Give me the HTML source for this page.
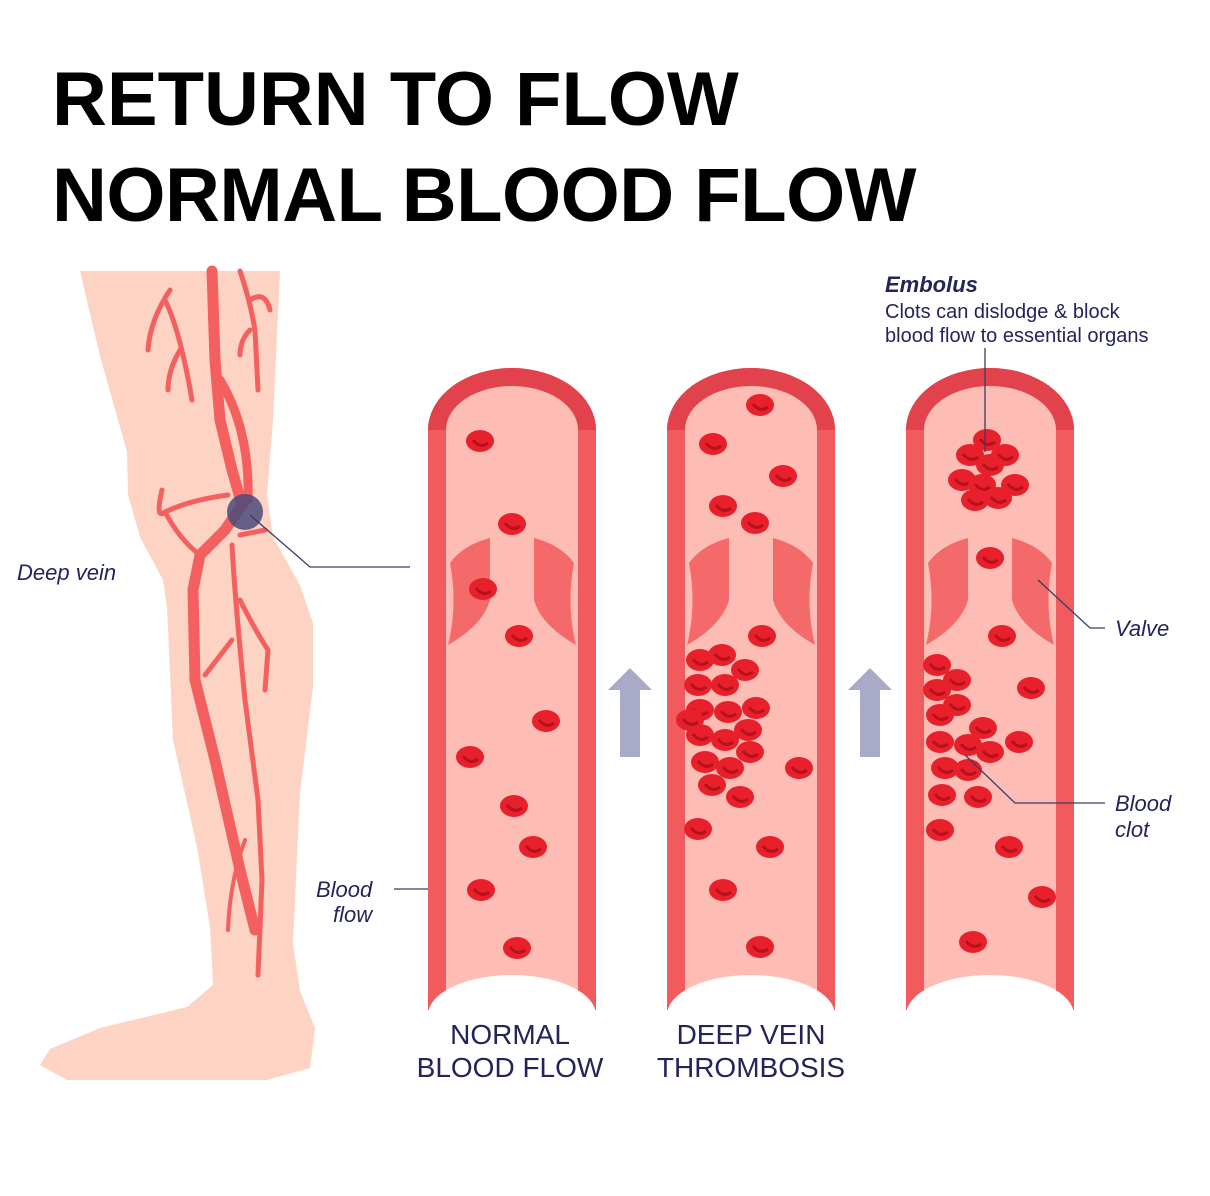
<!DOCTYPE html>
<html><head><meta charset="utf-8"><style>
body{margin:0;background:#fff;}
svg{display:block}
</style></head><body>
<svg width="1210" height="1196" viewBox="0 0 1210 1196" xmlns="http://www.w3.org/2000/svg">
<defs>
<g id="c"><ellipse cx="0" cy="0" rx="14" ry="11" fill="#e8202c"/><path d="M-7,-1 Q0,8 8,2" stroke="#b5121c" stroke-width="3" fill="none"/></g>
<g id="tube">
<path d="M0,1010 L0,430 A84,62 0 0 1 168,430 L168,1010 Z" fill="#f15b5e"/>
<path d="M0,430 A84,62 0 0 1 168,430 L150,430 A66,44 0 0 0 18,430 Z" fill="#e2424b"/>
<path d="M18,1010 L18,430 A66,44 0 0 1 150,430 L150,1010 Z" fill="#fdbdb5"/>
<ellipse cx="84" cy="1015" rx="84" ry="40" fill="#fff"/>
<rect x="-5" y="1010" width="180" height="60" fill="#fff"/>
</g>
<g id="valve">
<path d="M22,193 Q35,175 62,168 L62,230 Q55,255 20,275 Q30,235 22,193 Z" fill="#f4696a"/>
<path d="M146,193 Q133,175 106,168 L106,230 Q113,255 148,275 Q138,235 146,193 Z" fill="#f4696a"/>
</g>
</defs>
<text x="52" y="125" font-family="Liberation Sans, sans-serif" font-weight="bold" font-size="76" fill="#000">RETURN TO FLOW</text>
<text x="52" y="221" font-family="Liberation Sans, sans-serif" font-weight="bold" font-size="76" letter-spacing="-0.5" fill="#000">NORMAL BLOOD FLOW</text>

<!-- leg -->
<path d="M80,271 L100,356 L127,452 L128,495 L140,537 L163,580 L167,607 L173,740 L197,847 L210,927 L213,985 L187,1007 L100,1028 L50,1049 L40,1065 L67,1080 L267,1080 L310,1068 L315,1028 L300,991 L293,943 L300,793 L313,687 L313,623 L300,585 L273,537 L267,495 L273,420 L280,271 Z" fill="#fdd3c3"/>
<g stroke="#f4605f" fill="none" stroke-linecap="round">
<path d="M212,271 L215,360 L220,420 L232,470 L242,505 L225,530 L200,555 L193,590 L195,680 L215,760 L240,870 L255,930" stroke-width="11"/>
<path d="M220,380 Q250,430 248,500" stroke-width="9"/>
<path d="M170,290 Q150,320 148,350 M165,300 Q180,330 192,400 M180,350 Q168,370 168,390" stroke-width="5"/>
<path d="M240,271 Q250,300 255,330 L258,390 M250,300 Q265,290 270,310 M250,330 Q240,340 240,355" stroke-width="5"/>
<path d="M228,495 Q190,500 165,512 Q155,520 162,490 M165,512 Q180,540 200,555 M240,535 L265,530" stroke-width="5"/>
<path d="M232,545 Q235,600 245,700 L258,800 L262,880 L258,975 M240,600 Q255,630 268,650 L265,690 M232,640 L205,675" stroke-width="5"/>
<path d="M245,840 Q230,880 228,930" stroke-width="4"/>
</g>
<circle cx="245" cy="512" r="18" fill="#4a4b7a" opacity="0.85"/>
<path d="M250,515 L310,567 L410,567" stroke="#3b3d66" stroke-width="1.3" fill="none"/>
<text x="17" y="580" font-family="Liberation Sans, sans-serif" font-style="italic" font-size="22" fill="#23245a">Deep vein</text>
<text x="316" y="897" font-family="Liberation Sans, sans-serif" font-style="italic" font-size="22" fill="#23245a">Blood</text>
<text x="333" y="922" font-family="Liberation Sans, sans-serif" font-style="italic" font-size="22" fill="#23245a">flow</text>
<path d="M394,889 L465,889" stroke="#3b3d66" stroke-width="1.3"/>

<use href="#tube" x="428"/>
<use href="#tube" x="667"/>
<use href="#tube" x="906"/>
<use href="#valve" x="428" y="370"/>
<use href="#valve" x="667" y="370"/>
<use href="#valve" x="906" y="370"/>

<path d="M620,757 L620,690 L608,690 L630,668 L652,690 L640,690 L640,757 Z" fill="#a9aac7"/>
<path d="M860,757 L860,690 L848,690 L870,668 L892,690 L880,690 L880,757 Z" fill="#a9aac7"/>

<use href="#c" x="480" y="441"/><use href="#c" x="512" y="524"/><use href="#c" x="483" y="589"/><use href="#c" x="519" y="636"/><use href="#c" x="546" y="721"/><use href="#c" x="470" y="757"/><use href="#c" x="514" y="806"/><use href="#c" x="533" y="847"/><use href="#c" x="481" y="890"/><use href="#c" x="517" y="948"/>
<use href="#c" x="760" y="405"/><use href="#c" x="713" y="444"/><use href="#c" x="783" y="476"/><use href="#c" x="723" y="506"/><use href="#c" x="755" y="523"/><use href="#c" x="762" y="636"/><use href="#c" x="799" y="768"/><use href="#c" x="740" y="797"/><use href="#c" x="698" y="829"/><use href="#c" x="770" y="847"/><use href="#c" x="723" y="890"/><use href="#c" x="760" y="947"/>
<use href="#c" x="700" y="660"/><use href="#c" x="722" y="655"/><use href="#c" x="745" y="670"/><use href="#c" x="698" y="685"/><use href="#c" x="725" y="685"/><use href="#c" x="756" y="708"/><use href="#c" x="700" y="710"/><use href="#c" x="728" y="712"/><use href="#c" x="700" y="735"/><use href="#c" x="725" y="740"/><use href="#c" x="750" y="752"/><use href="#c" x="705" y="762"/><use href="#c" x="730" y="768"/><use href="#c" x="712" y="785"/><use href="#c" x="690" y="720"/><use href="#c" x="748" y="730"/>
<use href="#c" x="990" y="558"/><use href="#c" x="1002" y="636"/><use href="#c" x="1031" y="688"/><use href="#c" x="1019" y="742"/><use href="#c" x="1009" y="847"/><use href="#c" x="1042" y="897"/><use href="#c" x="973" y="942"/>
<use href="#c" x="987" y="440"/><use href="#c" x="970" y="455"/><use href="#c" x="1005" y="455"/><use href="#c" x="990" y="465"/><use href="#c" x="962" y="480"/><use href="#c" x="1015" y="485"/><use href="#c" x="982" y="485"/><use href="#c" x="975" y="500"/><use href="#c" x="998" y="498"/>
<use href="#c" x="937" y="665"/><use href="#c" x="957" y="680"/><use href="#c" x="937" y="690"/><use href="#c" x="957" y="705"/><use href="#c" x="940" y="715"/><use href="#c" x="983" y="728"/><use href="#c" x="940" y="742"/><use href="#c" x="968" y="745"/><use href="#c" x="990" y="752"/><use href="#c" x="945" y="768"/><use href="#c" x="968" y="770"/><use href="#c" x="942" y="795"/><use href="#c" x="978" y="797"/><use href="#c" x="940" y="830"/>

<path d="M985,348 L985,452" stroke="#3b3d66" stroke-width="1.3"/>
<path d="M1038,580 L1090,628 L1105,628" stroke="#3b3d66" stroke-width="1.3" fill="none"/>
<path d="M965,755 L1015,803 L1105,803" stroke="#3b3d66" stroke-width="1.3" fill="none"/>
<text x="885" y="292" font-family="Liberation Sans, sans-serif" font-style="italic" font-weight="bold" font-size="22" fill="#23245a">Embolus</text>
<text x="885" y="318" font-family="Liberation Sans, sans-serif" font-size="20" fill="#23245a">Clots can dislodge &amp; block</text>
<text x="885" y="342" font-family="Liberation Sans, sans-serif" font-size="20" fill="#23245a">blood flow to essential organs</text>
<text x="1115" y="636" font-family="Liberation Sans, sans-serif" font-style="italic" font-size="22" fill="#23245a">Valve</text>
<text x="1115" y="811" font-family="Liberation Sans, sans-serif" font-style="italic" font-size="22" fill="#23245a">Blood</text>
<text x="1115" y="837" font-family="Liberation Sans, sans-serif" font-style="italic" font-size="22" fill="#23245a">clot</text>
<g font-family="Liberation Sans, sans-serif" font-size="28" fill="#23245a" text-anchor="middle">
<text x="510" y="1044">NORMAL</text><text x="510" y="1077">BLOOD FLOW</text>
<text x="751" y="1044">DEEP VEIN</text><text x="751" y="1077">THROMBOSIS</text>
</g>
</svg>
</body></html>
